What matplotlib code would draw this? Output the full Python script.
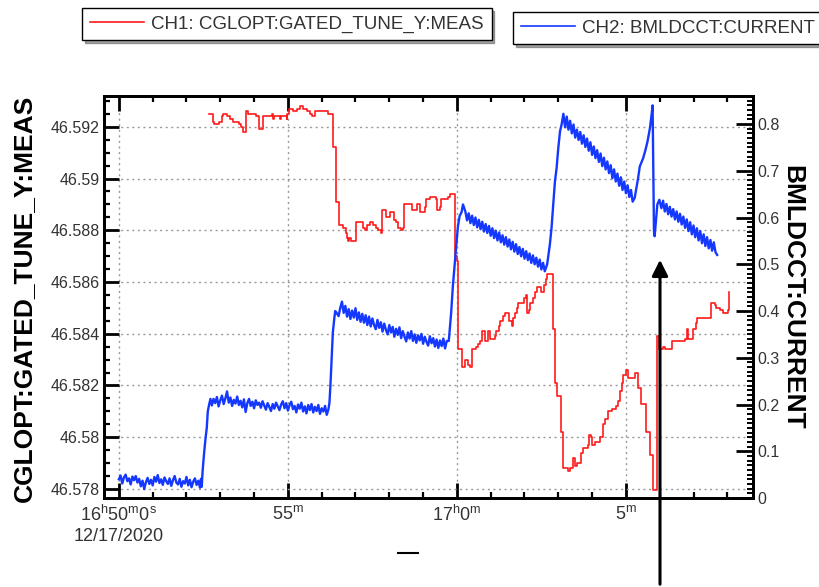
import matplotlib
matplotlib.use("Agg")
import matplotlib.pyplot as plt
from matplotlib.ticker import MultipleLocator, FixedLocator
from matplotlib.lines import Line2D

plt.rcParams['font.family'] = ['Liberation Sans', 'DejaVu Sans']
plt.rcParams['mathtext.fontset'] = 'custom'
plt.rcParams['mathtext.rm'] = 'Liberation Sans'
plt.rcParams['mathtext.it'] = 'Liberation Sans'

# ---- data: time in minutes after 16:50:00 on 12/17/2020 ----
red_t = [2.67, 2.77, 2.81, 2.91, 2.97, 3.04, 3.09, 3.17, 3.20, 3.26, 3.30, 3.38, 3.48, 3.56, 3.60,
         3.66, 3.66, 3.72, 3.75, 3.83, 3.93, 4.05, 4.12, 4.15, 4.22, 4.25, 4.37, 4.52, 4.55, 4.59,
         4.67, 4.76, 4.81, 4.91, 4.96, 4.98, 5.04, 5.16, 5.28, 5.36, 5.45, 5.57, 5.65, 5.70, 5.80,
         5.90, 6.09, 6.19, 6.34, 6.34, 6.42, 6.42, 6.48, 6.52, 6.59, 6.64, 6.71, 6.74, 6.78, 6.81,
         6.88, 6.97, 7.01, 7.15, 7.21, 7.28, 7.35, 7.43, 7.52, 7.60, 7.67, 7.74, 7.77, 7.84, 7.90,
         7.97, 8.02, 8.10, 8.14, 8.20, 8.26, 8.36, 8.41, 8.43, 8.56, 8.66, 8.76, 8.81, 8.88, 8.91,
         9.00, 9.05, 9.10, 9.20, 9.30, 9.38, 9.42, 9.50, 9.52, 9.62, 9.74, 9.81, 9.87, 9.94, 9.94,
         9.99, 9.99, 10.04, 10.04, 10.13, 10.16, 10.21, 10.24, 10.29, 10.33, 10.40, 10.46, 10.46,
         10.56, 10.63, 10.68, 10.73, 10.73, 10.83, 10.83, 10.90, 10.93, 10.96, 10.98, 11.07, 11.12,
         11.17, 11.25, 11.29, 11.37, 11.42, 11.49, 11.55, 11.62, 11.65, 11.72, 11.77, 11.81, 11.91,
         11.98, 12.04, 12.08, 12.14, 12.16, 12.24, 12.31, 12.38, 12.46, 12.48, 12.55, 12.57, 12.65,
         12.67, 12.80, 12.83, 12.83, 12.90, 12.90, 12.97, 12.97, 13.07, 13.07, 13.13, 13.13, 13.22,
         13.29, 13.36, 13.44, 13.49, 13.56, 13.62, 13.66, 13.72, 13.82, 13.88, 13.91, 13.98, 14.01,
         14.08, 14.15, 14.23, 14.31, 14.38, 14.48, 14.58, 14.70, 14.77, 14.82, 14.87, 14.92, 15.00,
         15.07, 15.07, 15.22, 15.27, 15.33, 15.36, 15.46, 15.46, 15.59, 15.59, 15.69, 15.71, 15.71,
         15.79, 15.79, 15.89, 15.91, 15.99, 15.99, 16.10, 16.15, 16.30, 16.35, 16.50, 16.70, 16.75,
         16.80, 16.84, 16.94, 16.99, 17.07, 17.11, 17.24, 17.34, 17.49, 17.53, 17.63, 17.68, 17.78,
         17.88, 17.96, 18.03, 18.06]
red_v = [46.5925, 46.5922, 46.5921, 46.5921, 46.5922, 46.5924, 46.5925, 46.5925, 46.5924, 46.5924,
         46.5923, 46.5922, 46.5922, 46.5921, 46.5920, 46.5920, 46.5918, 46.5918, 46.5926, 46.5925,
         46.5925, 46.5924, 46.5924, 46.5919, 46.5919, 46.5924, 46.5924, 46.5925, 46.5923, 46.5924,
         46.5924, 46.5923, 46.5924, 46.5924, 46.5923, 46.5925, 46.5927, 46.5926, 46.5927, 46.5928,
         46.5927, 46.5926, 46.5925, 46.5924, 46.5926, 46.5926, 46.5926, 46.5925, 46.5925, 46.5912,
         46.5912, 46.5891, 46.5891, 46.5882, 46.5882, 46.5881, 46.5879, 46.5877, 46.5876, 46.5877,
         46.5876, 46.5876, 46.5883, 46.5883, 46.5881, 46.5880, 46.5882, 46.5883, 46.5882, 46.5881,
         46.5880, 46.5879, 46.5888, 46.5888, 46.5885, 46.5885, 46.5887, 46.5887, 46.5884, 46.5883,
         46.5881, 46.5880, 46.5881, 46.5890, 46.5890, 46.5888, 46.5888, 46.5890, 46.5890, 46.5887,
         46.5887, 46.5889, 46.5892, 46.5893, 46.5893, 46.5892, 46.5888, 46.5889, 46.5892, 46.5892,
         46.5893, 46.5894, 46.5894, 46.5894, 46.5870, 46.5870, 46.5868, 46.5867, 46.5834, 46.5834,
         46.5827, 46.5827, 46.5830, 46.5830, 46.5828, 46.5827, 46.5827, 46.5834, 46.5835, 46.5836,
         46.5837, 46.5837, 46.5841, 46.5841, 46.5837, 46.5837, 46.5841, 46.5841, 46.5838, 46.5838,
         46.5839, 46.5841, 46.5843, 46.5845, 46.5847, 46.5848, 46.5848, 46.5845, 46.5843, 46.5846,
         46.5848, 46.5850, 46.5852, 46.5852, 46.5854, 46.5855, 46.5848, 46.5849, 46.5852, 46.5854,
         46.5856, 46.5858, 46.5858, 46.5856, 46.5856, 46.5859, 46.5861, 46.5863, 46.5863, 46.5863,
         46.5842, 46.5842, 46.5821, 46.5821, 46.5816, 46.5816, 46.5802, 46.5802, 46.5788, 46.5788,
         46.5787, 46.5788, 46.5792, 46.5789, 46.5790, 46.5790, 46.5794, 46.5796, 46.5796, 46.5797,
         46.5801, 46.5800, 46.5797, 46.5798, 46.5798, 46.5800, 46.5805, 46.5807, 46.5810, 46.5811,
         46.5812, 46.5814, 46.5818, 46.5821, 46.5824, 46.5826, 46.5826, 46.5823, 46.5823, 46.5825,
         46.5825, 46.5819, 46.5819, 46.5813, 46.5813, 46.5802, 46.5802, 46.5800, 46.5793, 46.5793,
         46.57796, 46.57796, 46.5839, 46.5839, 46.5834, 46.5835, 46.5834, 46.5834, 46.5837, 46.5837,
         46.5837, 46.5838, 46.5842, 46.5838, 46.5838, 46.5842, 46.5844, 46.5846, 46.5846, 46.5846,
         46.5846, 46.5852, 46.5851, 46.5850, 46.5849, 46.5848, 46.5848, 46.5849, 46.5856]

blue_t = [
    # first plateau
    0.00, 0.05, 0.10, 0.15, 0.20, 0.25, 0.30, 0.35, 0.40, 0.45, 0.50, 0.55, 0.60, 0.65, 0.70,
    0.75, 0.80, 0.85, 0.90, 0.95, 1.00, 1.05, 1.10, 1.15, 1.20, 1.25, 1.30, 1.35, 1.40, 1.45,
    1.50, 1.55, 1.60, 1.65, 1.70, 1.75, 1.80, 1.85, 1.90, 1.95, 2.00, 2.05, 2.10, 2.15, 2.20,
    2.25, 2.30, 2.35, 2.40, 2.43, 2.45,
    2.48, 2.52, 2.56, 2.60, 2.63, 2.67, 2.71,
    # second plateau
    2.75, 2.80, 2.85, 2.90, 2.95, 3.00, 3.05, 3.10, 3.15, 3.20, 3.25, 3.30, 3.35, 3.40, 3.45,
    3.50, 3.55, 3.60, 3.65, 3.70, 3.75, 3.80, 3.85, 3.90, 3.95, 4.00, 4.05, 4.10, 4.15, 4.20,
    4.25, 4.30, 4.35, 4.40, 4.45, 4.50, 4.55, 4.60, 4.65, 4.70, 4.75, 4.80, 4.85, 4.90, 4.95,
    5.00, 5.05, 5.10, 5.15, 5.20, 5.25, 5.30, 5.35, 5.40, 5.45, 5.50, 5.55, 5.60, 5.65, 5.70,
    5.75, 5.80, 5.85, 5.90, 5.95, 6.00, 6.05, 6.10, 6.15, 6.20,
    6.23, 6.26, 6.30, 6.33, 6.37, 6.40, 6.44,
    # third segment (decay)
    6.50, 6.55, 6.60, 6.65, 6.70, 6.75, 6.80, 6.85, 6.90, 6.95, 7.00, 7.05, 7.10, 7.15, 7.20,
    7.25, 7.30, 7.35, 7.40, 7.45, 7.50, 7.55, 7.60, 7.65, 7.70, 7.75, 7.80, 7.85, 7.90, 7.95,
    8.00, 8.05, 8.10, 8.15, 8.20, 8.25, 8.30, 8.35, 8.40, 8.45, 8.50, 8.55, 8.60, 8.65, 8.70,
    8.75, 8.80, 8.85, 8.90, 8.95, 9.00, 9.05, 9.10, 9.15, 9.20, 9.25, 9.30, 9.35, 9.40, 9.45,
    9.50, 9.55, 9.60, 9.65, 9.70,
    9.76, 9.83, 9.88, 9.93, 9.98, 10.03, 10.08, 10.14, 10.18,
    # fourth segment
    10.25, 10.30, 10.35, 10.40, 10.45, 10.50, 10.55, 10.60, 10.65, 10.70, 10.75, 10.80, 10.85,
    10.90, 10.95, 11.00, 11.05, 11.10, 11.15, 11.20, 11.25, 11.30, 11.35, 11.40, 11.45, 11.50,
    11.55, 11.60, 11.65, 11.70, 11.75, 11.80, 11.85, 11.90, 11.95, 12.00, 12.05, 12.10, 12.15,
    12.20, 12.25, 12.30, 12.35, 12.40, 12.45, 12.50, 12.55, 12.60,
    12.67, 12.75, 12.80, 12.85, 12.90, 12.95, 13.00, 13.05, 13.10, 13.15,
    # fifth segment
    13.20, 13.25, 13.30, 13.35, 13.40, 13.45, 13.50, 13.55, 13.60, 13.65, 13.70, 13.75, 13.80,
    13.85, 13.90, 13.95, 14.00, 14.05, 14.10, 14.15, 14.20, 14.25, 14.30, 14.35, 14.40, 14.45,
    14.50, 14.55, 14.60, 14.65, 14.70, 14.75, 14.80, 14.85, 14.90, 14.95, 15.00, 15.05, 15.10,
    15.15, 15.20,
    15.26, 15.36, 15.41, 15.51, 15.58, 15.64, 15.71, 15.76, 15.79,
    15.83, 15.85, 15.93, 15.99,
    # last segment
    16.05, 16.10, 16.15, 16.20, 16.25, 16.30, 16.35, 16.40, 16.45, 16.50, 16.55, 16.60, 16.65,
    16.70, 16.75, 16.80, 16.85, 16.90, 16.95, 17.00, 17.05, 17.10, 17.15, 17.20, 17.25, 17.30,
    17.35, 17.40, 17.45, 17.50, 17.55, 17.60, 17.65, 17.70]
blue_v = [
    0.040, 0.048, 0.031, 0.044, 0.050, 0.036, 0.042, 0.029, 0.046, 0.038, 0.047, 0.033, 0.041,
    0.025, 0.037, 0.019, 0.034, 0.043, 0.030, 0.039, 0.027, 0.045, 0.035, 0.049, 0.032, 0.040,
    0.028, 0.044, 0.036, 0.030, 0.042, 0.026, 0.038, 0.047, 0.033, 0.029, 0.041, 0.024, 0.036,
    0.031, 0.045, 0.027, 0.039, 0.023, 0.035, 0.042, 0.028, 0.037, 0.022, 0.041, 0.024,
    0.060, 0.095, 0.125, 0.150, 0.185, 0.200, 0.212,
    0.198, 0.212, 0.203, 0.216, 0.196, 0.209, 0.219, 0.201, 0.213, 0.228, 0.204, 0.215, 0.197,
    0.210, 0.202, 0.217, 0.199, 0.208, 0.194, 0.211, 0.184, 0.203, 0.212, 0.197, 0.206, 0.192,
    0.209, 0.199, 0.204, 0.193, 0.207, 0.198, 0.189, 0.203, 0.195, 0.186, 0.201, 0.191, 0.204,
    0.196, 0.188, 0.200, 0.207, 0.192, 0.203, 0.187, 0.199, 0.206, 0.190, 0.197, 0.183, 0.200,
    0.191, 0.204, 0.185, 0.196, 0.181, 0.199, 0.188, 0.201, 0.183, 0.195, 0.186, 0.199, 0.180,
    0.192, 0.185, 0.197, 0.178, 0.190,
    0.204, 0.243, 0.304, 0.354, 0.382, 0.400, 0.396,
    0.389, 0.407, 0.420, 0.396, 0.411, 0.388, 0.404, 0.383, 0.401, 0.386, 0.406, 0.381, 0.397,
    0.377, 0.394, 0.375, 0.391, 0.370, 0.388, 0.367, 0.384, 0.370, 0.361, 0.381, 0.364, 0.376,
    0.356, 0.373, 0.360, 0.350, 0.370, 0.354, 0.366, 0.345, 0.362, 0.349, 0.365, 0.342, 0.357,
    0.345, 0.335, 0.354, 0.341, 0.357, 0.336, 0.350, 0.332, 0.348, 0.337, 0.351, 0.330, 0.345,
    0.334, 0.326, 0.346, 0.331, 0.342, 0.324, 0.339, 0.321, 0.337, 0.325, 0.341, 0.320, 0.336,
    0.336, 0.396, 0.453, 0.496, 0.539, 0.581, 0.603, 0.612, 0.628,
    0.613, 0.594, 0.609, 0.588, 0.604, 0.584, 0.600, 0.579, 0.595, 0.575, 0.591, 0.570, 0.586,
    0.567, 0.582, 0.561, 0.577, 0.556, 0.572, 0.551, 0.568, 0.547, 0.562, 0.542, 0.558, 0.538,
    0.553, 0.532, 0.548, 0.527, 0.543, 0.522, 0.537, 0.517, 0.533, 0.512, 0.528, 0.509, 0.523,
    0.503, 0.519, 0.500, 0.514, 0.495, 0.510, 0.489, 0.503, 0.485,
    0.500, 0.542, 0.578, 0.628, 0.677, 0.706, 0.749, 0.784, 0.800, 0.822,
    0.793, 0.816, 0.788, 0.807, 0.780, 0.799, 0.771, 0.788, 0.766, 0.783, 0.758, 0.776, 0.751,
    0.769, 0.743, 0.761, 0.734, 0.752, 0.727, 0.744, 0.719, 0.737, 0.710, 0.728, 0.703, 0.720,
    0.695, 0.712, 0.684, 0.703, 0.677, 0.694, 0.668, 0.686, 0.659, 0.677, 0.652, 0.669, 0.644,
    0.659, 0.634,
    0.642, 0.684, 0.709, 0.727, 0.745, 0.763, 0.791, 0.820, 0.840,
    0.571, 0.560, 0.628, 0.638,
    0.620, 0.636, 0.613, 0.629, 0.607, 0.623, 0.602, 0.618, 0.596, 0.613, 0.591, 0.608, 0.585,
    0.602, 0.578, 0.596, 0.571, 0.590, 0.564, 0.583, 0.558, 0.577, 0.551, 0.571, 0.545, 0.564,
    0.539, 0.558, 0.534, 0.552, 0.529, 0.547, 0.526, 0.520]

x_ticks = [0, 5, 10, 15]
x_labels = ['16$^{\\mathrm{h}}$50$^{\\mathrm{m}}$0$^{\\mathrm{s}}$\n12/17/2020',
            '55$^{\\mathrm{m}}$', '17$^{\\mathrm{h}}$0$^{\\mathrm{m}}$', '5$^{\\mathrm{m}}$']
left_ticks = [46.578, 46.580, 46.582, 46.584, 46.586, 46.588, 46.590, 46.592]
left_labels = ['46.578', '46.58', '46.582', '46.584', '46.586', '46.588', '46.59', '46.592']
right_ticks = [0, 0.1, 0.2, 0.3, 0.4, 0.5, 0.6, 0.7, 0.8]
right_labels = ['0', '0.1', '0.2', '0.3', '0.4', '0.5', '0.6', '0.7', '0.8']

RED = '#ff1a1a'
BLUE = '#1438ff'
TXT = '#333333'

W, H = 819, 587
fig = plt.figure(figsize=(W / 100, H / 100), dpi=100)
ax = fig.add_axes([104 / W, 1 - 498 / H, (753 - 104) / W, (498 - 96) / H])
ax2 = ax.twinx()

l1, = ax.plot(red_t, red_v, color=RED, lw=1.2, drawstyle='steps-post',
              label='CH1: CGLOPT:GATED_TUNE_Y:MEAS')
l2, = ax2.plot(blue_t, blue_v, color=BLUE, lw=1.7, label='CH2: BMLDCCT:CURRENT')

ax.set_xlim(-0.44, 18.76)
ax.set_ylim(46.57765, 46.59319)
ax2.set_ylim(0, 0.86)

ax.xaxis.set_major_locator(FixedLocator(x_ticks))
ax.set_xticklabels(x_labels)
ax.xaxis.set_minor_locator(MultipleLocator(1))
ax.yaxis.set_major_locator(FixedLocator(left_ticks))
ax.set_yticklabels(left_labels)
ax.yaxis.set_minor_locator(MultipleLocator(0.0005))
ax2.yaxis.set_major_locator(FixedLocator(right_ticks))
ax2.set_yticklabels(right_labels)
ax2.yaxis.set_minor_locator(MultipleLocator(0.01))

ax.grid(True, which='major', color='#9a9a9a', linestyle=(0, (1.5, 2.5)), lw=1.0)

ax.tick_params(axis='x', which='both', direction='in', top=True, bottom=True,
               labelsize=13, labelcolor=TXT, pad=5)
ax.tick_params(axis='x', which='major', length=11, width=2)
ax.tick_params(axis='x', which='minor', length=4, width=1.6)
ax.tick_params(axis='y', which='both', direction='in', left=True, right=False,
               labelsize=11.5, labelcolor=TXT, pad=3)
ax.tick_params(axis='y', which='major', length=11, width=2)
ax.tick_params(axis='y', which='minor', length=4.5, width=1.6)
ax2.tick_params(axis='y', which='both', direction='in', right=True, left=False,
                labelsize=11.5, labelcolor=TXT, pad=3)
ax2.tick_params(axis='y', which='major', length=12, width=2)
ax2.tick_params(axis='y', which='minor', length=4, width=1.4)

for a in (ax, ax2):
    for s in a.spines.values():
        s.set_linewidth(2.0)
        s.set_color('black')

ax.set_ylabel('CGLOPT:GATED_TUNE_Y:MEAS', fontsize=19, fontweight='bold', color='black')
ax.yaxis.set_label_coords(-0.105, 0.497)
ax2.set_ylabel('BMLDCCT:CURRENT', fontsize=19, fontweight='bold', color='black',
               rotation=-90, va='center')
ax2.yaxis.set_label_coords(1.061, 0.5)

# legends (two separate boxes)
leg_kw = dict(loc='upper left', fontsize=13.5, frameon=True, fancybox=False, shadow=True,
              edgecolor='black', framealpha=1, borderaxespad=0, handlelength=2.9,
              handletextpad=0.4, borderpad=0.4)
leg1 = fig.legend(handles=[l1], bbox_to_anchor=(82 / W, 1 - 8 / H), **leg_kw)
leg2 = fig.legend(handles=[l2], bbox_to_anchor=(513 / W, 1 - 12 / H), **leg_kw)
for lg in (leg1, leg2):
    lg.get_frame().set_linewidth(1.0)
    for t in lg.get_texts():
        t.set_color(TXT)
    for h in lg.legend_handles:
        h.set_linewidth(1.2)

# annotation arrow
ax.annotate('', xy=(660 / W, 1 - 257 / H), xycoords='figure fraction',
            xytext=(660 / W, 0.0), textcoords='figure fraction',
            arrowprops=dict(arrowstyle='-|>', color='black', lw=2.2, mutation_scale=24),
            annotation_clip=False)

fig.add_artist(Line2D([398 / W, 418 / W], [1 - 553 / H, 1 - 553 / H], color='black', lw=1.5))

fig.savefig('out.png', dpi=100)
